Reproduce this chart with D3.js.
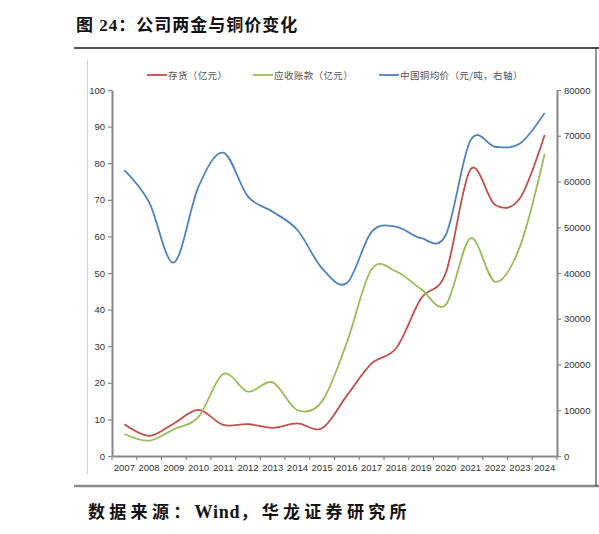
<!DOCTYPE html>
<html>
<head>
<meta charset="utf-8">
<script src="https://cdn.jsdelivr.net/npm/d3@7"></script>
<style>
  body { margin: 0; background: #fff; }
  svg { display: block; }
</style>
</head>
<body>
<svg width="599" height="534"></svg>
<script>
// Chart data
const years = ["2007", "2008", "2009", "2010", "2011", "2012", "2013", "2014", "2015",
  "2016", "2017", "2018", "2019", "2020", "2021", "2022", "2023", "2024"];
const inventory = [8.7, 5.5, 8.9, 12.6, 8.5, 8.7, 7.7, 8.9, 7.6,
  16.5, 25.3, 29.5, 43, 50, 78.3, 68.6, 70.4, 87.7];
const receivables = [6.0, 4.2, 7.3, 10.7, 22.4, 17.6, 20.1, 12.5, 15,
  31, 51, 50.4, 45.6, 41.3, 59.5, 47.6, 57.2, 82.5];
const copperPrice = [62500, 55500, 42300, 58900, 66300, 56700, 53400, 49400, 41000,
  37800, 49000, 50100, 47600, 48300, 69000, 67600, 68300, 75000];
const leftTicks = d3.range(0, 101, 10);
const rightTicks = d3.range(0, 80001, 10000);

const series = [
  { name: "存货（亿元）", values: inventory, color: "#C0504D", axis: "left" },
  { name: "应收账款（亿元）", values: receivables, color: "#9BBB59", axis: "left" },
  { name: "中国铜均价（元/吨，右轴）", values: copperPrice, color: "#4F81BD", axis: "right" }
];

const svg = d3.select("svg");
const axisColor = "#868686";
const headFont = "'Liberation Serif', 'Noto Sans CJK SC'";

// Page title and source
svg.append("text")
  .attr("x", 76).attr("y", 31)
  .attr("font-family", headFont)
  .attr("font-weight", "bold").attr("font-size", 17)
  .attr("letter-spacing", 1)
  .attr("fill", "#111")
  .text("图 24：公司两金与铜价变化");

const source = svg.append("text")
  .attr("x", 88).attr("y", 518)
  .attr("font-family", headFont)
  .attr("font-weight", "bold").attr("font-size", 17)
  .attr("fill", "#111");
source.append("tspan").attr("letter-spacing", 4.3).text("数据来源：");
source.append("tspan").attr("letter-spacing", 0.8).attr("font-size", 18).text("Wind");
source.append("tspan").attr("letter-spacing", 4.3).text("，华龙证券研究所");

// Frame lines
svg.append("line").attr("x1", 74).attr("x2", 599).attr("y1", 48).attr("y2", 48)
  .attr("stroke", "#555").attr("stroke-width", 2);
svg.append("line").attr("x1", 74).attr("x2", 599).attr("y1", 486).attr("y2", 486)
  .attr("stroke", "#888").attr("stroke-width", 2.5);
svg.append("line").attr("x1", 596).attr("x2", 596).attr("y1", 47).attr("y2", 486)
  .attr("stroke", "#222").attr("stroke-width", 1);
svg.append("line").attr("x1", 87.5).attr("x2", 87.5).attr("y1", 60).attr("y2", 474)
  .attr("stroke", "#d0d0d0").attr("stroke-width", 1);

// Scales
const x = d3.scaleBand().domain(years).range([112, 557]).padding(0);
const yLeft = d3.scaleLinear().domain([0, 100]).range([456, 90]);
const yRight = d3.scaleLinear().domain([0, 80000]).range([456, 90]);
const cx = (i) => x(years[i]) + x.bandwidth() / 2;

// Axes
const styleAxis = (g) => {
  g.select(".domain").attr("stroke", axisColor).attr("stroke-width", 2);
  g.selectAll(".tick line").attr("stroke", axisColor).attr("stroke-width", 1.2);
  g.selectAll(".tick text")
    .attr("fill", "#333")
    .attr("font-family", "'Liberation Sans', Arial, sans-serif")
    .attr("font-size", 9.5);
};

svg.append("g")
  .attr("transform", "translate(112,0)")
  .call(d3.axisLeft(yLeft).tickValues(leftTicks).tickSizeInner(4).tickSizeOuter(0).tickPadding(3))
  .call(styleAxis);

svg.append("g")
  .attr("transform", "translate(557,0)")
  .call(d3.axisRight(yRight).tickValues(rightTicks).tickFormat(d3.format("d"))
    .tickSizeInner(4).tickSizeOuter(0).tickPadding(3))
  .call(styleAxis);

const xAxis = svg.append("g")
  .attr("transform", "translate(0,456)")
  .call(d3.axisBottom(x).tickSize(0).tickPadding(8))
  .call(styleAxis);

// category boundary ticks
xAxis.selectAll(".bound")
  .data(d3.range(years.length + 1))
  .enter()
  .append("line")
  .attr("class", "bound")
  .attr("x1", (i) => 112 + i * x.bandwidth())
  .attr("x2", (i) => 112 + i * x.bandwidth())
  .attr("y1", 0).attr("y2", 4)
  .attr("stroke", axisColor).attr("stroke-width", 1.2);

// Smoothed lines
series.forEach((s) => {
  const yScale = s.axis === "left" ? yLeft : yRight;
  const line = d3.line()
    .x((d, i) => cx(i))
    .y((d) => yScale(d))
    .curve(d3.curveCardinal.tension(0));
  svg.append("path")
    .datum(s.values)
    .attr("d", line)
    .attr("fill", "none")
    .attr("stroke", s.color)
    .attr("stroke-width", 1.8)
    .attr("stroke-linejoin", "round");
});

// Legend
const legendX = [147, 253, 379];
const legend = svg.selectAll(".legend")
  .data(series)
  .enter()
  .append("g")
  .attr("transform", (d, i) => `translate(${legendX[i]},75)`);

legend.append("line")
  .attr("x1", 0).attr("x2", 20).attr("y1", 0).attr("y2", 0)
  .attr("stroke", (d) => d.color).attr("stroke-width", 1.8);

legend.append("text")
  .attr("x", 21).attr("y", 3.5)
  .attr("font-family", "'Noto Sans CJK SC', sans-serif")
  .attr("font-size", 9.6)
  .attr("letter-spacing", 0.3)
  .attr("fill", "#555")
  .text((d) => d.name);
</script>
</body>
</html>
